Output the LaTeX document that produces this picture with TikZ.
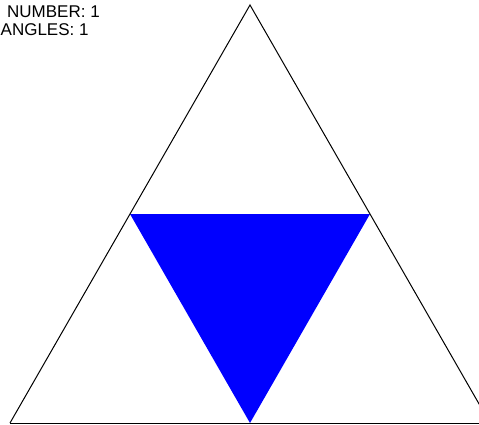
\documentclass[tikz,border=0pt]{standalone}
\usepackage{fontspec}
\setmainfont{Liberation Sans}
\begin{document}
\begin{tikzpicture}[x=1pt,y=-1pt,
  edge/.style={draw=black,line width=1pt},
  lbl/.style={anchor=base west,inner sep=0pt,font=\fontsize{17}{18}\selectfont}]
\useasboundingbox (0,0) rectangle (479,425);
\coordinate (A) at (250,5);
\coordinate (L) at (10,423);
\coordinate (R) at (490,423);
\coordinate (ML) at (130,214);
\coordinate (MR) at (370,214);
\coordinate (MB) at (250,423);
\begin{scope}
\clip (0,0) rectangle (479,425);
\fill[blue] (ML) -- (MR) -- (MB) -- cycle;
\draw[edge,line join=miter] (L) -- (A) -- (R);
\draw[edge] (L) -- (R);
\end{scope}
\node[lbl] (n1) at (7,18) {NUMBER: 1};
\node[lbl] (n2) at (0.5,36) {ANGLES: 1};
\end{tikzpicture}
\end{document}
